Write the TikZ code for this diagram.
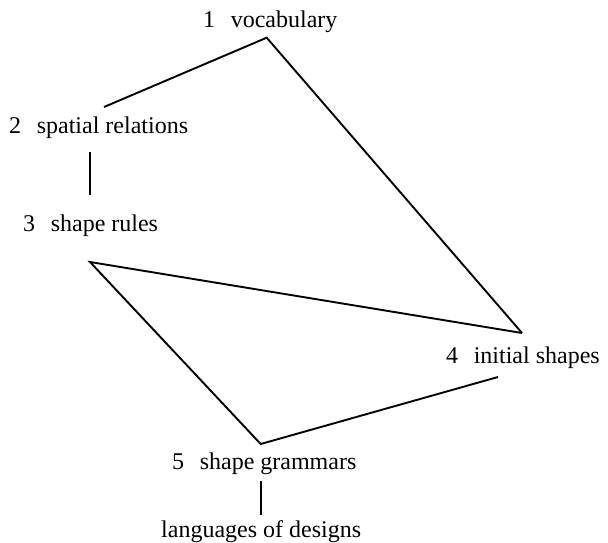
\documentclass[tikz,border=0pt]{standalone}
\usepackage{fontspec}
\setmainfont{Liberation Serif}
\begin{document}
\begin{tikzpicture}[x=1pt,y=-1pt,
  lbl/.style={anchor=base west,inner sep=0pt,font=\fontsize{24}{27}\selectfont},
  edge/.style={line width=1.9pt,line join=miter}]
\useasboundingbox (0,0) rectangle (608,543);
\newcommand\gp{\hskip0.65em}
\node[lbl] (n1) at (203,28) {1\gp vocabulary};
\node[lbl] (n2) at (9,133) {2\gp spatial relations};
\node[lbl] (n3) at (23,231) {3\gp shape rules};
\node[lbl] (n4) at (446,363) {4\gp initial shapes};
\node[lbl] (n5) at (172,469) {5\gp shape grammars};
\node[lbl] (n6) at (161,537) {languages of designs};
\coordinate (v1) at (266.7,37.7);
\coordinate (a2) at (104,107);
\coordinate (b2) at (90,152);
\coordinate (t3) at (90,195);
\coordinate (v3) at (90,262);
\coordinate (v4) at (522,333);
\coordinate (a4) at (498,377);
\coordinate (v5) at (260.7,444);
\coordinate (b5) at (260.7,481);
\coordinate (t6) at (260.7,515);
\draw[edge] (a2) -- (v1) -- (v4);
\draw[edge] (b2) -- (t3);
\draw[edge] (v4) -- (v3) -- (v5) -- (a4);
\draw[edge] (b5) -- (t6);
\end{tikzpicture}
\end{document}
